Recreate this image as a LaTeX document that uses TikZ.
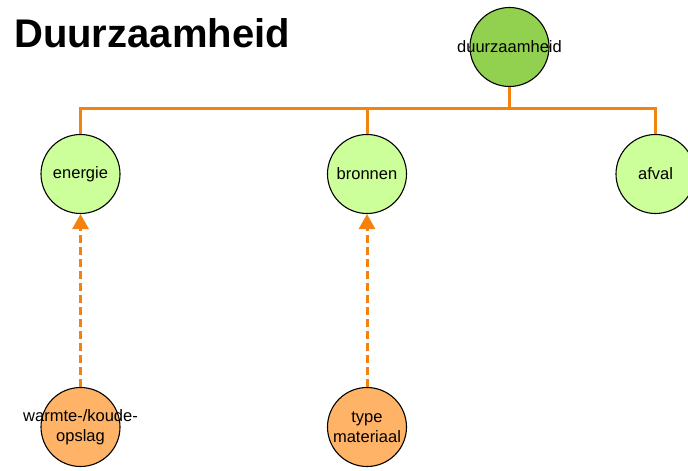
\documentclass[tikz,border=0pt]{standalone}
\usepackage{fontspec}
\setmainfont{Liberation Sans}
\usetikzlibrary{arrows.meta}
\definecolor{rootgreen}{HTML}{92D050}
\definecolor{leafgreen}{HTML}{CCFF99}
\definecolor{subor}{HTML}{FFB366}
\definecolor{lineor}{HTML}{F5820F}
% labels take no width, so they may run past the circle's edge
\newcommand{\lbl}[1]{\makebox[0pt][c]{#1}}
\tikzset{
  topic/.style={circle, draw=black, line width=1.1pt, minimum size=79pt, inner sep=0pt,
    font=\fontsize{16.5}{20}\selectfont, align=center},
  rootnode/.style={topic, fill=rootgreen},
  mainnode/.style={topic, fill=leafgreen},
  subnode/.style={topic, fill=subor},
  tree/.style={draw=lineor, line width=3pt},
  dep/.style={draw=lineor, line width=3pt, dash pattern=on 8pt off 4pt,
    -{Triangle[length=15pt,width=16pt]}}
}
\begin{document}
\begin{tikzpicture}[x=1pt,y=-1pt]
\useasboundingbox (0,0) rectangle (688,471);
% title
\node[anchor=base west, inner sep=0pt, font=\fontsize{40}{44}\selectfont\bfseries] (title) at (14,47) {Duurzaamheid};
% tree nodes
\node[rootnode] (root) at (509.5,47) {\lbl{duurzaamheid}};
\node[mainnode] (energie) at (80.5,174) {\lbl{energie}};
\node[mainnode] (bronnen) at (367,174) {\lbl{bronnen}};
\node[mainnode] (afval) at (655.5,174) {\lbl{afval}};
\node[subnode] (wko) at (80.5,427) {\lbl{warmte-/koude-}\\\lbl{opslag}};
\node[subnode] (mat) at (367,427) {\lbl{type}\\\lbl{materiaal}};
% hierarchy connectors
\coordinate (bar) at (509.5,108);
\draw[tree] (root.south) -- (bar);
\draw[tree] (energie.north) |- (bar) -| (afval.north);
\draw[tree] (bronnen.north) -- (bronnen.north |- bar);
% dependency arrows
\draw[dep] (wko.north) -- (energie.south);
\draw[dep] (mat.north) -- (bronnen.south);
\end{tikzpicture}
\end{document}
